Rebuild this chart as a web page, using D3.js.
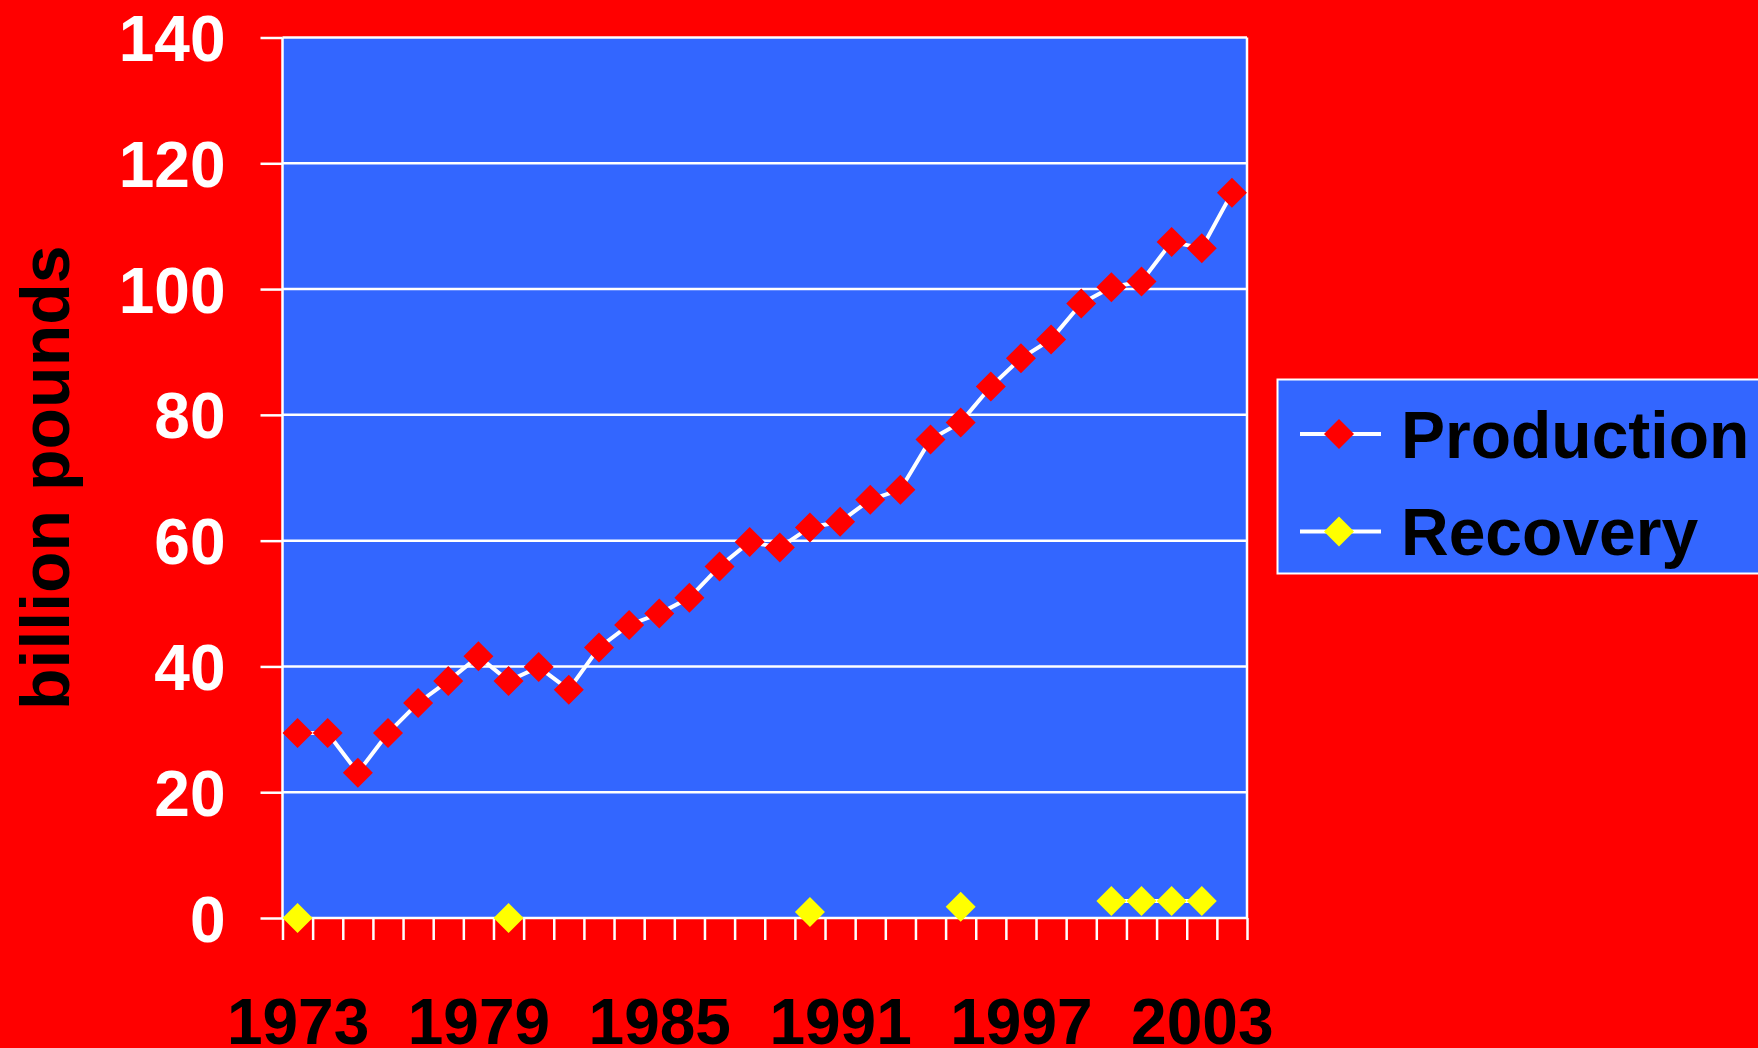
<!DOCTYPE html>
<html>
<head>
<meta charset="utf-8">
<script src="https://cdn.jsdelivr.net/npm/d3@7"></script>
<style>
  html, body { margin: 0; padding: 0; background: #ff0000; overflow: hidden; }
  text { font-family: "Liberation Sans", Arial, sans-serif; font-weight: bold; }
</style>
</head>
<body>
<div id="chart"></div>
<script>
// data (billion pounds)
const years = d3.range(1973, 2005);
const production = [29.4, 29.4, 23.1, 29.4, 34.2, 37.7, 41.6, 37.7, 39.9, 36.3,
  43.0, 46.6, 48.4, 50.9, 55.9, 59.8, 58.9, 62.1, 63.0, 66.5,
  68.1, 76.1, 78.8, 84.5, 89.0, 92.0, 97.7, 100.3, 101.2, 107.5,
  106.5, 115.3];
const recovery = [0, null, null, null, null, null, null, 0, null, null,
  null, null, null, null, null, null, null, 0.95, null, null,
  null, null, 1.8, null, null, null, null, 2.7, 2.7, 2.7,
  2.7, null];
const yTicks = [0, 20, 40, 60, 80, 100, 120, 140];
const xLabels = [1973, 1979, 1985, 1991, 1997, 2003];
const seriesNames = ["Production", "Recovery"];
const seriesColors = ["#ff0000", "#ffff00"];

const W = 1758, H = 1048;
const plot = {left: 282.5, right: 1247, top: 37.5, bottom: 918};

const svg = d3.select("#chart")
  .append("svg")
    .attr("width", W)
    .attr("height", H);

svg.append("rect")
  .attr("width", W).attr("height", H)
  .attr("fill", "#ff0000");

const x = d3.scaleLinear()
  .domain([years[0] - 0.5, years[years.length - 1] + 0.5])
  .range([plot.left, plot.right]);

const y = d3.scaleLinear()
  .domain([0, 140])
  .range([plot.bottom, plot.top]);

// plot area
svg.append("rect")
  .attr("x", plot.left).attr("y", plot.top)
  .attr("width", plot.right - plot.left)
  .attr("height", plot.bottom - plot.top)
  .attr("fill", "#3366ff");

// gridlines
svg.append("g")
  .selectAll("line")
  .data(yTicks)
  .join("line")
    .attr("x1", plot.left).attr("x2", plot.right)
    .attr("y1", d => y(d)).attr("y2", d => y(d))
    .attr("stroke", "white")
    .attr("stroke-width", 2.5);

// left / right frame
svg.append("g")
  .selectAll("line")
  .data(x.domain())
  .join("line")
    .attr("x1", d => x(d)).attr("x2", d => x(d))
    .attr("y1", y(140)).attr("y2", y(0))
    .attr("stroke", "white")
    .attr("stroke-width", 2.5);

// y axis
const yAxis = svg.append("g")
  .attr("transform", `translate(${plot.left},0)`)
  .call(d3.axisLeft(y).tickValues(yTicks).tickSize(22).tickPadding(35).tickSizeOuter(0));
yAxis.select(".domain").remove();
yAxis.selectAll("line").attr("stroke", "white").attr("stroke-width", 2.5);
yAxis.selectAll("text")
  .attr("fill", "white")
  .style("font-size", "64px")
  .attr("dy", "0.36em");

// x axis ticks at category boundaries
const xTickAxis = svg.append("g")
  .attr("transform", `translate(0,${plot.bottom})`)
  .call(d3.axisBottom(x).tickValues(d3.range(years[0] - 0.5, years[years.length - 1] + 1, 1))
    .tickSize(22).tickFormat("").tickSizeOuter(0));
xTickAxis.select(".domain").remove();
xTickAxis.selectAll("line").attr("stroke", "white").attr("stroke-width", 2.5);

// x labels
const xLabAxis = svg.append("g")
  .attr("transform", `translate(0,${plot.bottom})`)
  .call(d3.axisBottom(x).tickValues(xLabels).tickSize(0).tickFormat(d3.format("d")));
xLabAxis.select(".domain").remove();
xLabAxis.selectAll("text")
  .attr("fill", "black")
  .attr("y", 1044 - plot.bottom)
  .attr("dy", 0)
  .style("font-size", "64px");

// y title
svg.append("text")
  .attr("transform", `translate(69,${(plot.top + plot.bottom) / 2}) rotate(-90)`)
  .attr("text-anchor", "middle")
  .attr("fill", "black")
  .style("font-size", "68px")
  .text("billion pounds");

// lines
const line = d3.line()
  .defined(d => d[1] != null)
  .x(d => x(d[0]))
  .y(d => y(d[1]));

const series = [production, recovery];
const diamond = d3.symbol(d3.symbolSquare, 450);

series.forEach((vals, i) => {
  const pts = years.map((yr, j) => [yr, vals[j]]);
  svg.append("path")
    .datum(pts)
    .attr("d", line)
    .attr("fill", "none")
    .attr("stroke", "white")
    .attr("stroke-width", 4);
  svg.append("g")
    .selectAll("path")
    .data(pts.filter(d => d[1] != null))
    .join("path")
      .attr("d", diamond)
      .attr("transform", d => `translate(${x(d[0])},${y(d[1])}) rotate(45)`)
      .attr("fill", seriesColors[i]);
});

// legend
const legend = svg.append("g");
legend.append("rect")
  .attr("x", 1277.5).attr("y", 379.5)
  .attr("width", 520).attr("height", 194)
  .attr("fill", "#3366ff")
  .attr("stroke", "white")
  .attr("stroke-width", 2);

const legY = [434, 531.5];
seriesNames.forEach((name, i) => {
  legend.append("line")
    .attr("x1", 1300).attr("x2", 1381)
    .attr("y1", legY[i]).attr("y2", legY[i])
    .attr("stroke", "white").attr("stroke-width", 4);
  legend.append("path")
    .attr("d", diamond)
    .attr("transform", `translate(1339,${legY[i]}) rotate(45)`)
    .attr("fill", seriesColors[i]);
  legend.append("text")
    .attr("x", 1401)
    .attr("y", legY[i] + 23.5)
    .attr("fill", "black")
    .style("font-size", "66px")
    .text(name);
});
</script>
</body>
</html>
